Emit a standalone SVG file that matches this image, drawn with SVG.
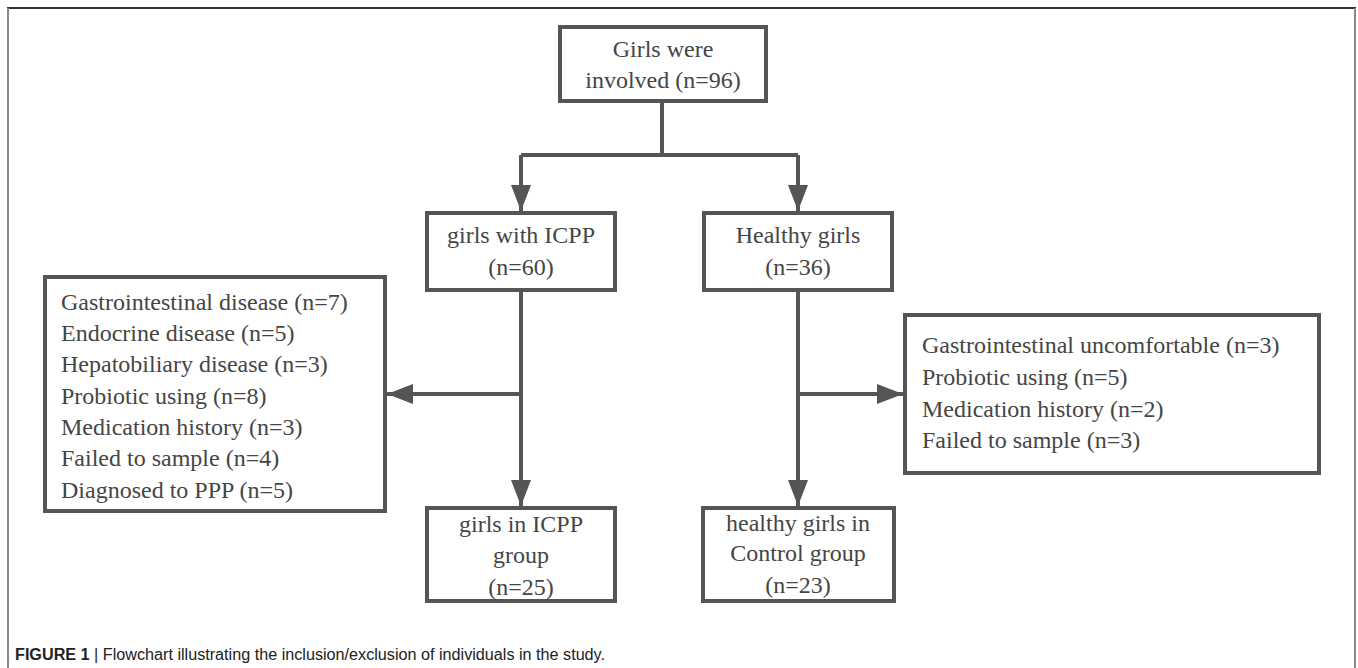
<svg xmlns="http://www.w3.org/2000/svg" width="1358" height="668" viewBox="0 0 1358 668">
<style>
.box{fill:#fff;stroke:#555;stroke-width:4}
.ln{fill:none;stroke:#555;stroke-width:4}
.t{font-family:"Liberation Serif","Times New Roman",serif;font-size:24px;fill:#454545}
.c{text-anchor:middle}
.cap{font-family:"Liberation Sans",Arial,sans-serif;font-size:16px;fill:#222}
</style>
<defs>
<marker id="ah" viewBox="0 0 26 20" refX="26" refY="10" markerWidth="26" markerHeight="20" markerUnits="userSpaceOnUse" orient="auto">
<path d="M0,0 L26,10 L0,20 Z" fill="#555"/>
</marker>
</defs>
<rect width="1358" height="668" fill="#fff"/>
<g id="frame">
<line x1="7" y1="8" x2="1356" y2="8" stroke="#333" stroke-width="2"/>
<line x1="8" y1="8" x2="8" y2="668" stroke="#888" stroke-width="2"/>
<line x1="1355" y1="8" x2="1355" y2="668" stroke="#888" stroke-width="2"/>
</g>
<g id="connectors">
<polyline class="ln" points="662,102 662,155"/>
<polyline class="ln" points="521,155 798,155"/>
<line class="ln" x1="521" y1="155" x2="521" y2="211" marker-end="url(#ah)"/>
<line class="ln" x1="798" y1="155" x2="798" y2="211" marker-end="url(#ah)"/>
<line class="ln" x1="521" y1="292" x2="521" y2="506" marker-end="url(#ah)"/>
<line class="ln" x1="798" y1="292" x2="798" y2="506" marker-end="url(#ah)"/>
<line class="ln" x1="521" y1="394" x2="387" y2="394" marker-end="url(#ah)"/>
<line class="ln" x1="798" y1="394" x2="903" y2="394" marker-end="url(#ah)"/>
</g>
<g id="n_top">
<rect class="box" x="560" y="27" width="206" height="74"/>
<text class="t c" x="663" y="57">Girls were</text>
<text class="t c" x="663" y="88">involved (n=96)</text>
</g>
<g id="n_icpp">
<rect class="box" x="427" y="213" width="188" height="77"/>
<text class="t c" x="521" y="243">girls with ICPP</text>
<text class="t c" x="521" y="275">(n=60)</text>
</g>
<g id="n_healthy">
<rect class="box" x="704" y="213" width="188" height="77"/>
<text class="t c" x="798" y="243">Healthy girls</text>
<text class="t c" x="798" y="275">(n=36)</text>
</g>
<g id="n_excl_left">
<rect class="box" x="45" y="277" width="340" height="234"/>
<text class="t" x="61" y="310">Gastrointestinal disease (n=7)</text>
<text class="t" x="61" y="341">Endocrine disease (n=5)</text>
<text class="t" x="61" y="372">Hepatobiliary disease (n=3)</text>
<text class="t" x="61" y="404">Probiotic using (n=8)</text>
<text class="t" x="61" y="435">Medication history (n=3)</text>
<text class="t" x="61" y="466">Failed to sample (n=4)</text>
<text class="t" x="61" y="498">Diagnosed to PPP (n=5)</text>
</g>
<g id="n_excl_right">
<rect class="box" x="905" y="315" width="414" height="158"/>
<text class="t" x="922" y="353">Gastrointestinal uncomfortable (n=3)</text>
<text class="t" x="922" y="385">Probiotic using (n=5)</text>
<text class="t" x="922" y="417">Medication history (n=2)</text>
<text class="t" x="922" y="448">Failed to sample (n=3)</text>
</g>
<g id="n_icpp_group">
<rect class="box" x="427" y="508" width="188" height="93"/>
<text class="t c" x="521" y="532">girls in ICPP</text>
<text class="t c" x="521" y="563">group</text>
<text class="t c" x="521" y="595">(n=25)</text>
</g>
<g id="n_control">
<rect class="box" x="703" y="508" width="191" height="93"/>
<text class="t c" x="798" y="531">healthy girls in</text>
<text class="t c" x="798" y="561">Control group</text>
<text class="t c" x="798" y="593">(n=23)</text>
</g>
<g id="caption">
<text class="cap" x="15" y="660" textLength="590" lengthAdjust="spacingAndGlyphs"><tspan font-weight="bold">FIGURE 1</tspan> | Flowchart illustrating the inclusion/exclusion of individuals in the study.</text>
</g>
</svg>
